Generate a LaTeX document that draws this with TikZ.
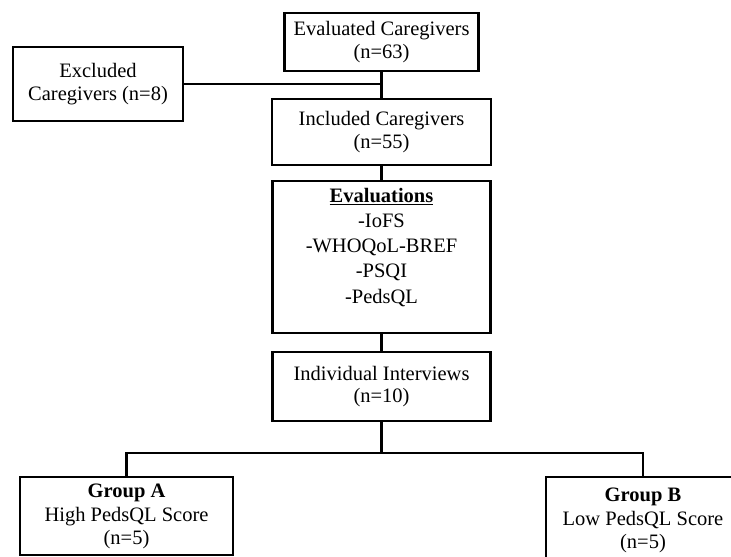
\documentclass[tikz,border=0pt]{standalone}
\usepackage{fontspec}
\setmainfont{Liberation Serif}
\usetikzlibrary{positioning}

\begin{document}
\begin{tikzpicture}[
    x=0.03cm, y=-0.03cm,
    font=\fontsize{17.5}{19}\selectfont,
    flow/.style={draw, line width=1.9pt, align=center, inner sep=0pt},
    conn/.style={line width=1.9pt}
]
\clip (0,0) rectangle (731,556);

% ---------- screening ----------
\node[flow, minimum width=5.82cm, minimum height=1.74cm] (evaluated) at (381.5,42)
   {Evaluated Caregivers\\(n=63)};
\node[flow, minimum width=5.1cm, minimum height=2.22cm] (excluded) at (98,84)
   {Excluded\\Caregivers (n=8)};
\node[flow, minimum width=6.57cm, minimum height=1.98cm] (included) at (381.5,132)
   {Included Caregivers\\(n=55)};

% ---------- evaluations and interviews ----------
\node[flow, minimum width=6.54cm, minimum height=4.56cm,
      font=\fontsize{17.5}{21.5}\selectfont] (evals) at (381.5,257)
   {\underline{\textbf{Evaluations}}\\-IoFS\\-WHOQoL-BREF\\-PSQI\\-PedsQL\\[-2pt]\mbox{}};
\node[flow, minimum width=6.54cm, minimum height=2.07cm] (interviews) at (381.5,386.5)
   {Individual Interviews\\(n=10)};

% ---------- groups ----------
\node[flow, minimum width=6.39cm, minimum height=2.34cm] (groupA) at (126.5,516)
   {\textbf{Group A}\\[2pt]High PedsQL Score\\(n=5)};
\node[flow, minimum width=5.82cm, minimum height=2.58cm] (groupB) at (643,520)
   {\textbf{Group B}\\[2pt]Low PedsQL Score\\(n=5)};

% ---------- connectors ----------
\coordinate (split) at (381.5,453);
\draw[conn] (evaluated.south) -- (included.north);
\draw[conn] (excluded.east) -- (excluded.east -| evaluated.south);
\draw[conn] (included.south) -- (evals.north);
\draw[conn] (evals.south) -- (interviews.north);
\draw[conn] (interviews.south) -- (split);
\draw[conn] (groupA.north) |- (split) -| (groupB.north);

\end{tikzpicture}
\end{document}
